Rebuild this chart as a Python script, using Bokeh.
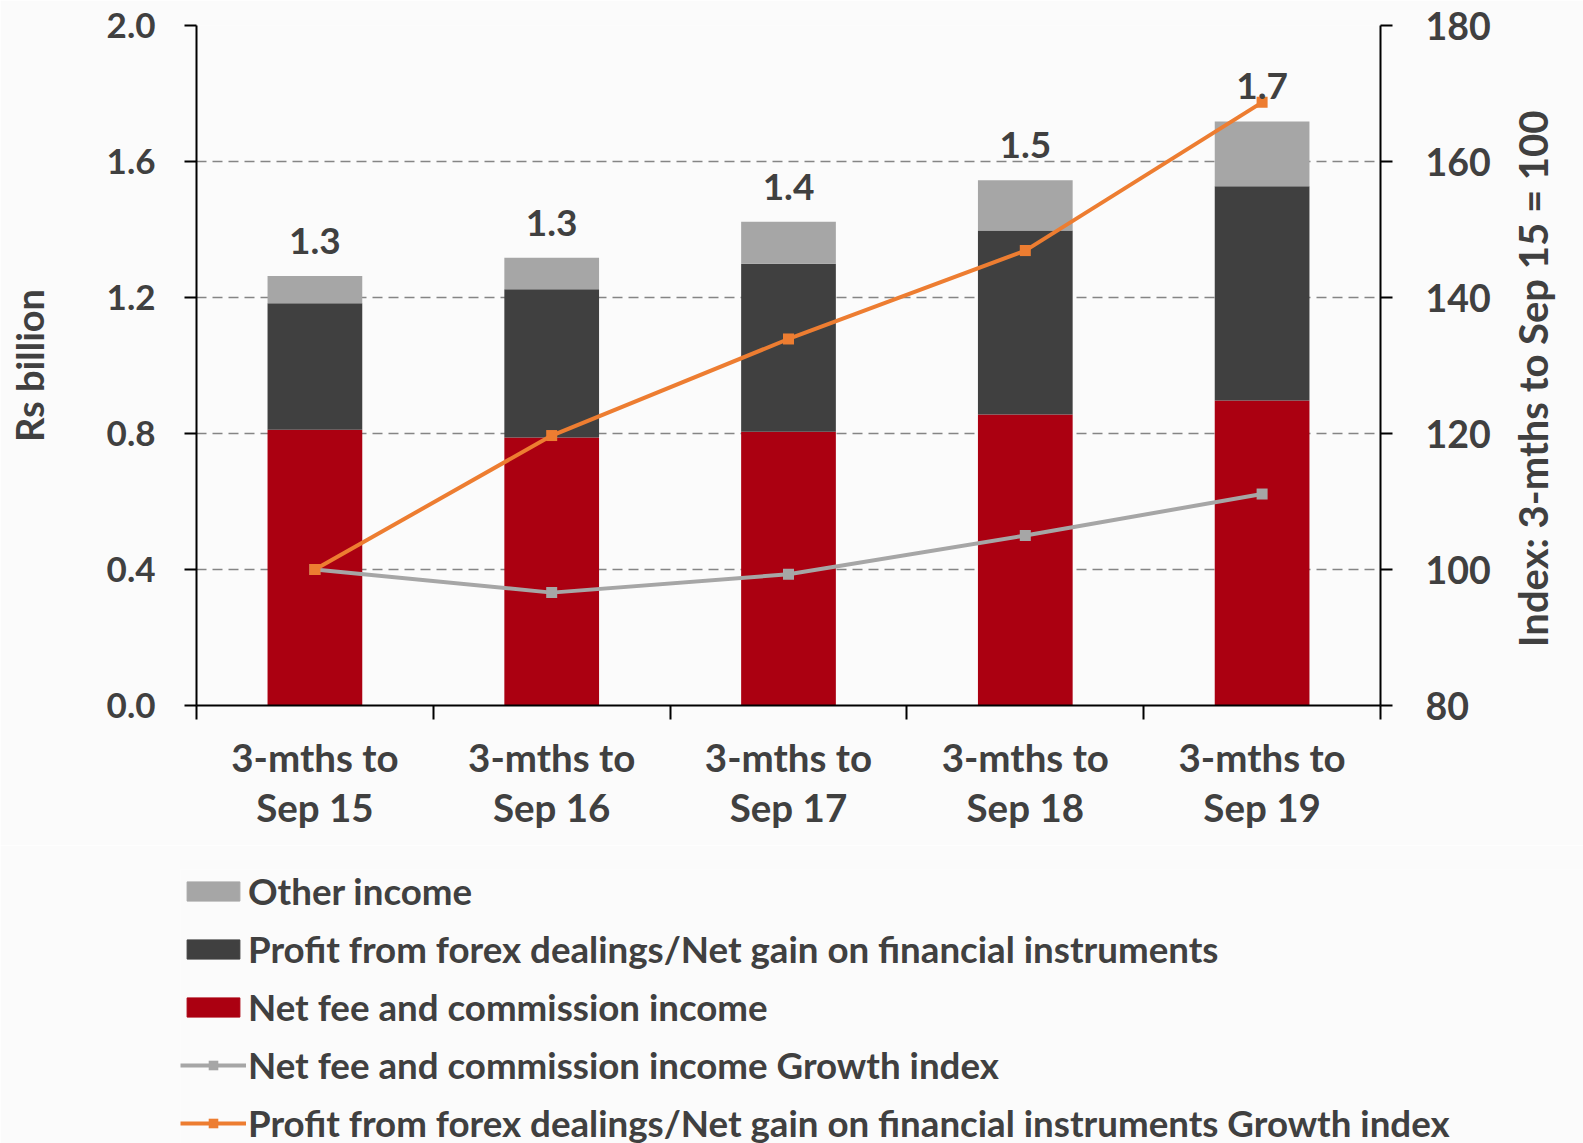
import math
from bokeh.plotting import figure
from bokeh.models import (Range1d, LinearAxis, FixedTicker, Legend,
                          LegendItem, ColumnDataSource, PrintfTickFormatter)
from bokeh.embed import file_html
from bokeh.resources import INLINE
from bokeh.core.properties import value

# ---------------- data ----------------
categories = ["3-mths to\nSep 15", "3-mths to\nSep 16", "3-mths to\nSep 17",
              "3-mths to\nSep 18", "3-mths to\nSep 19"]
net_fee = [0.811, 0.788, 0.805, 0.856, 0.897]
forex = [0.372, 0.436, 0.494, 0.541, 0.630]
other = [0.080, 0.093, 0.124, 0.148, 0.191]
fee_index = [100.0, 96.6, 99.3, 105.0, 111.1]
forex_index = [100.0, 119.7, 133.9, 146.9, 168.7]
left_ticks = [0.0, 0.4, 0.8, 1.2, 1.6, 2.0]
right_ticks = [80, 100, 120, 140, 160, 180]
series_names = ["Net fee and commission income",
                "Profit from forex dealings/Net gain on financial instruments",
                "Other income"]
line_names = ["Net fee and commission income Growth index",
              "Profit from forex dealings/Net gain on financial instruments Growth index"]
right_title = "Index: 3-mths to Sep 15 = 100"

n = len(categories)
xpos = [i + 0.5 for i in range(n)]          # category centres on a 0..n scale
totals = [a + b + c for a, b, c in zip(net_fee, forex, other)]
total_labels = [f"{t:.1f}" for t in totals]

# ---------------- style ----------------
FONT = value("Lato")
TXT = "#404040"
RED = "#AB0011"
DARK = "#404040"
LGRAY = "#A6A6A6"
ORANGE = "#ED7D31"
BG = "#FBFBFB"

W = 1583
H_MAIN, H_LEG = 845, 298
p = figure(width=W, height=H_MAIN, x_range=Range1d(0, n), y_range=Range1d(0, 2.0),
           output_backend="svg", toolbar_location=None, x_axis_location=None,
           min_border_left=196, min_border_right=203, min_border_top=25,
           min_border_bottom=140)
p.background_fill_color = BG
p.border_fill_color = BG
p.outline_line_color = None
p.extra_y_ranges = {"idx": Range1d(80, 180)}

# grid
p.xgrid.visible = False
p.ygrid.ticker = FixedTicker(ticks=left_ticks)
p.ygrid.grid_line_color = "#858585"
p.ygrid.grid_line_dash = "10 6"
p.ygrid.grid_line_width = 1.6


def style_y(ax, size):
    ax.major_tick_in = 0
    ax.major_tick_out = 12
    ax.minor_tick_line_color = None
    ax.axis_line_color = "black"
    ax.axis_line_width = 2
    ax.major_tick_line_color = "black"
    ax.major_tick_line_width = 2
    ax.major_label_text_font = "Lato"
    ax.major_label_text_font_style = "bold"
    ax.major_label_text_font_size = size
    ax.major_label_text_color = TXT
    ax.axis_label_text_font = "Lato"
    ax.axis_label_text_font_style = "bold"
    ax.axis_label_text_font_size = "38px"
    ax.axis_label_text_color = TXT


# left axis
ya = p.yaxis[0]
ya.ticker = FixedTicker(ticks=left_ticks)
ya.formatter = PrintfTickFormatter(format="%.1f")
ya.axis_label = "Rs billion"
style_y(ya, "35px")
ya.major_label_standoff = 29
ya.axis_label_standoff = 52

yr = LinearAxis(y_range_name="idx", ticker=FixedTicker(ticks=right_ticks))
style_y(yr, "37.5px")
yr.major_label_standoff = 33
yr.axis_label_standoff = 39
yr.axis_label_text_font_size = "40px"
try:
    yr.axis_label_orientation = math.pi / 2
    yr.axis_label_align = "start"
    yr.axis_label = "\u00a0" * 6 + right_title
except Exception:
    yr.axis_label = right_title
p.add_layout(yr, "right")

# bottom axes: ticks between categories, then category labels
tick_axis = LinearAxis(ticker=FixedTicker(ticks=list(range(n + 1))))
tick_axis.major_tick_in = 0
tick_axis.major_tick_out = 14
tick_axis.major_tick_line_width = 2
tick_axis.major_tick_line_color = "black"
tick_axis.axis_line_width = 2
tick_axis.axis_line_color = "black"
tick_axis.minor_tick_line_color = None
tick_axis.major_label_text_font_size = "0px"
tick_axis.major_label_standoff = 0
p.add_layout(tick_axis, "below")

cat_axis = LinearAxis(ticker=FixedTicker(ticks=xpos),
                      major_label_overrides={x: c for x, c in zip(xpos, categories)})
cat_axis.axis_line_color = None
cat_axis.major_tick_line_color = None
cat_axis.minor_tick_line_color = None
cat_axis.major_label_standoff = 8
cat_axis.major_label_text_font = "Lato"
cat_axis.major_label_text_font_style = "bold"
cat_axis.major_label_text_font_size = "38.5px"
cat_axis.major_label_text_color = TXT
cat_axis.major_label_text_line_height = 1.1
p.add_layout(cat_axis, "below")

# ---------------- glyphs ----------------
src = ColumnDataSource(dict(x=xpos, net_fee=net_fee, forex=forex, other=other,
                            fee_index=fee_index, forex_index=forex_index,
                            total=totals, total_label=total_labels))

bars = p.vbar_stack(["net_fee", "forex", "other"], x="x", width=0.4,
                    color=[RED, DARK, LGRAY], line_color=None, source=src)

p.line(x="x", y="fee_index", y_range_name="idx", line_color=LGRAY,
       line_width=4, source=src)
p.scatter(x="x", y="fee_index", y_range_name="idx", marker="square", size=11,
          fill_color=LGRAY, line_color=None, source=src)
p.line(x="x", y="forex_index", y_range_name="idx", line_color=ORANGE,
       line_width=4, source=src)
p.scatter(x="x", y="forex_index", y_range_name="idx", marker="square", size=11,
          fill_color=ORANGE, line_color=None, source=src)

p.text(x="x", y="total", text="total_label", source=src, text_align="center",
       text_baseline="bottom", y_offset=-22, text_font=FONT, text_font_style="bold",
       text_font_size="37px", text_color=TXT)

# ---------------- legend (own strip below the chart) ----------------
pl = figure(width=W, height=H_LEG, x_range=Range1d(0, 1), y_range=Range1d(0, 1),
            output_backend="svg", toolbar_location=None, x_axis_location=None,
            y_axis_location=None, min_border_left=180, min_border_top=24,
            min_border_right=0, min_border_bottom=0)
pl.background_fill_color = BG
pl.border_fill_color = BG
pl.outline_line_color = None
pl.grid.visible = False

# legend keys: one point each, kept outside the visible range
key = ColumnDataSource(dict(x=[-5.0], y=[-5.0]))
k_other = pl.vbar(x="x", top="y", width=0.4, color=LGRAY, source=key)
k_forex = pl.vbar(x="x", top="y", width=0.4, color=DARK, source=key)
k_fee = pl.vbar(x="x", top="y", width=0.4, color=RED, source=key)
k_gl = pl.line(x="x", y="y", line_color=LGRAY, line_width=4, source=key)
k_gs = pl.scatter(x="x", y="y", marker="square", size=11, fill_color=LGRAY,
                  line_color=None, source=key)
k_ol = pl.line(x="x", y="y", line_color=ORANGE, line_width=4, source=key)
k_os = pl.scatter(x="x", y="y", marker="square", size=11, fill_color=ORANGE,
                  line_color=None, source=key)

items = [
    LegendItem(label=series_names[2], renderers=[k_other]),
    LegendItem(label=series_names[1], renderers=[k_forex]),
    LegendItem(label=series_names[0], renderers=[k_fee]),
    LegendItem(label=line_names[0], renderers=[k_gl, k_gs]),
    LegendItem(label=line_names[1], renderers=[k_ol, k_os]),
]
legend = Legend(items=items, location="top_left", orientation="vertical",
                glyph_width=66, glyph_height=24, label_height=42, spacing=14,
                padding=0, margin=0, label_standoff=2,
                label_text_font="Lato", label_text_font_style="bold",
                label_text_font_size="36.7px", label_text_color=TXT,
                border_line_color=None, background_fill_alpha=0)
pl.add_layout(legend, "center")

open("out.html", "w").write(file_html([p, pl], INLINE))
